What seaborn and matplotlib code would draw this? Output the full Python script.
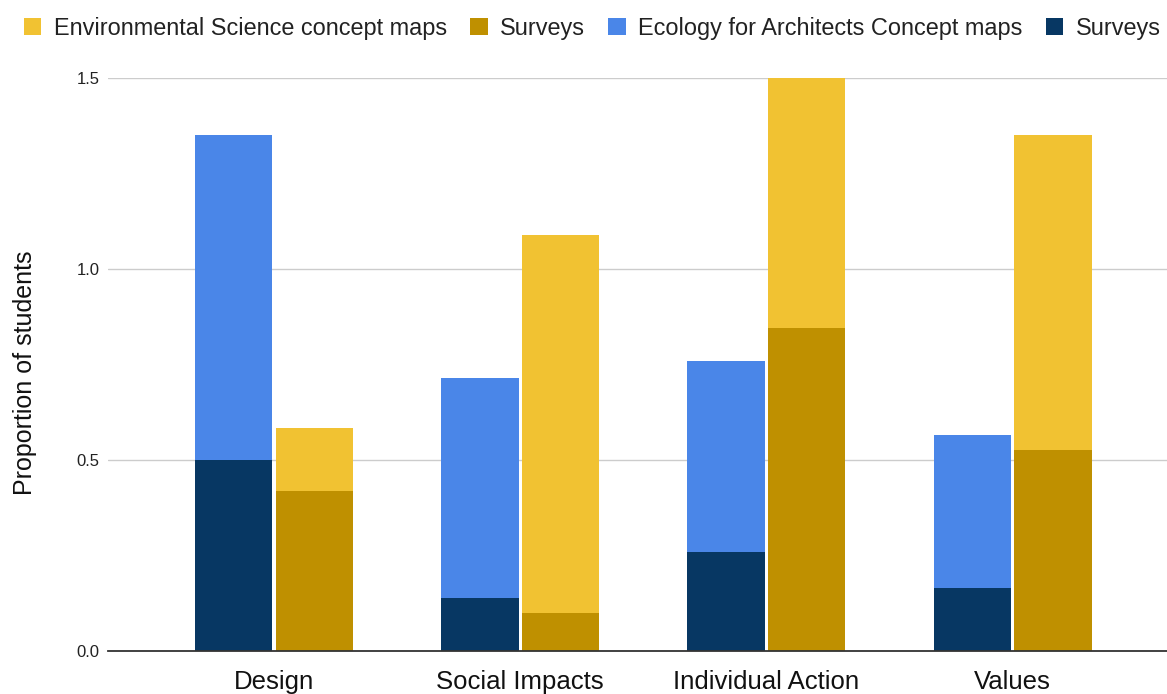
import matplotlib
matplotlib.use("Agg")
import matplotlib.pyplot as plt
from matplotlib.patches import Patch
import pandas as pd
import seaborn as sns

# Topic categories on the x axis
categories = ["Design", "Social Impacts", "Individual Action", "Values"]

# Ecology for Architects: survey share (bottom) and concept-map share (stacked on top)
arch_surveys = [0.50, 0.14, 0.26, 0.165]
arch_concept = [0.85, 0.575, 0.50, 0.40]

# Environmental Science: survey share (bottom) and concept-map share (stacked on top)
env_surveys = [0.42, 0.10, 0.845, 0.525]
env_concept = [0.165, 0.99, 0.655, 0.825]

programs = ["Ecology for Architects", "Environmental Science"]
y_ticks = [0.0, 0.5, 1.0, 1.5]
y_label = "Proportion of students"

legend_labels = [
    "Environmental Science concept maps",
    "Surveys",
    "Ecology for Architects Concept maps",
    "Surveys",
]

c_env_concept = "#F1C232"
c_env_survey = "#BF9000"
c_arch_concept = "#4A86E8"
c_arch_survey = "#073763"

# Long-form tables for seaborn
rows = []
for i, cat in enumerate(categories):
    rows.append(dict(category=cat, program=programs[0],
                     survey=arch_surveys[i], total=arch_surveys[i] + arch_concept[i]))
    rows.append(dict(category=cat, program=programs[1],
                     survey=env_surveys[i], total=env_surveys[i] + env_concept[i]))
df = pd.DataFrame(rows)

sns.set_style("white")
plt.rcParams["font.family"] = ["Liberation Sans", "DejaVu Sans"]

fig = plt.figure(figsize=(11.67, 6.94), dpi=100)
ax = fig.add_axes([108 / 1167, 1 - 651 / 694, 1 - 108 / 1167, (651 - 78) / 694])

bar_kw = dict(order=categories, hue_order=programs, width=0.654, gap=0.04,
              saturation=1, linewidth=0, legend=False, errorbar=None, ax=ax, zorder=3)

# Full stacked height (survey + concept map)
sns.barplot(data=df, x="category", y="total", hue="program",
            palette=[c_arch_concept, c_env_concept], **bar_kw)
# Survey portion at the bottom of each stack
sns.barplot(data=df, x="category", y="survey", hue="program",
            palette=[c_arch_survey, c_env_survey], **bar_kw)

ax.set_xlim(-0.674, 3.627)
ax.set_ylim(0, 1.5)
ax.set_yticks(y_ticks)
ax.set_yticklabels([f"{t:.1f}" for t in y_ticks])
ax.yaxis.grid(True, color="#cccccc", linewidth=1.0, zorder=0)
ax.xaxis.grid(False)
ax.set_axisbelow(True)

for side in ["top", "right", "left"]:
    ax.spines[side].set_visible(False)
ax.spines["bottom"].set_color("#333333")
ax.spines["bottom"].set_linewidth(1.3)
ax.spines["bottom"].set_zorder(4)

ax.tick_params(axis="y", length=0, pad=6.3, labelsize=12, labelcolor="#222222")
ax.tick_params(axis="x", length=0, pad=14, labelsize=18.5, labelcolor="#111111")

ax.set_xlabel("")
ax.set_ylabel(y_label, fontsize=18, color="#111111")
ax.yaxis.set_label_coords(-0.067, 0.486)

handles = [
    Patch(facecolor=c_env_concept, edgecolor="none"),
    Patch(facecolor=c_env_survey, edgecolor="none"),
    Patch(facecolor=c_arch_concept, edgecolor="none"),
    Patch(facecolor=c_arch_survey, edgecolor="none"),
]
fig.legend(handles, legend_labels, loc="center left", bbox_to_anchor=(24 / 1167, 1 - 28 / 694),
           ncol=4, frameon=False, fontsize=16.9, handlelength=0.745, handleheight=0.745,
           handletextpad=0.52, columnspacing=1.0, borderpad=0, borderaxespad=0,
           labelcolor="#222222")

fig.savefig("out.png", dpi=100)
